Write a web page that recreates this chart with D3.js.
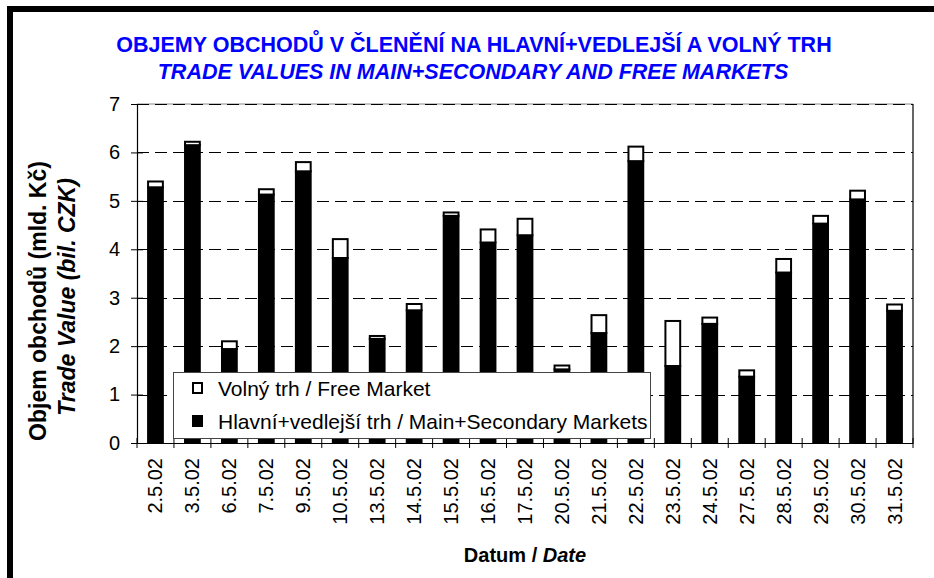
<!DOCTYPE html>
<html lang="cs">
<head>
  <meta charset="UTF-8">
  <title>Objemy obchodů</title>
  <script src="https://d3js.org/d3.v7.min.js"></script>
  <style>
    body { margin: 0; background: #fff; }
    text { font-family: Arial, 'Liberation Sans', sans-serif; fill: #000; }
    .title { fill: #0000ff; font-weight: bold; font-size: 21.5px; }
    .axis text { font-size: 20px; }
  </style>
</head>
<body>
  <svg width="934" height="578"></svg>

  <script>
    // The data
    const dates = ["2.5.02", "3.5.02", "6.5.02", "7.5.02", "9.5.02", "10.5.02", "13.5.02",
      "14.5.02", "15.5.02", "16.5.02", "17.5.02", "20.5.02", "21.5.02", "22.5.02",
      "23.5.02", "24.5.02", "27.5.02", "28.5.02", "29.5.02", "30.5.02", "31.5.02"];
    const mainValues = [5.28, 6.15, 1.94, 5.13, 5.61, 3.82, 2.15, 2.74, 4.69, 4.14, 4.29,
      1.52, 2.27, 5.82, 1.59, 2.46, 1.37, 3.52, 4.53, 5.03, 2.73];
    const freeValues = [0.12, 0.07, 0.16, 0.11, 0.19, 0.39, 0.06, 0.13, 0.07, 0.27, 0.34,
      0.08, 0.37, 0.30, 0.93, 0.13, 0.13, 0.28, 0.16, 0.18, 0.13];
    const yTicks = [0, 1, 2, 3, 4, 5, 6, 7];

    const svg = d3.select("svg");
    const plot = { left: 137, right: 913, top: 104, bottom: 443 };

    // frame (only top and left edges show)
    svg.append("rect").attr("x", 7).attr("y", 6).attr("width", 934).attr("height", 6).attr("fill", "#000");
    svg.append("rect").attr("x", 7).attr("y", 6).attr("width", 6).attr("height", 578).attr("fill", "#000");

    // Scales
    const x = d3.scaleBand()
      .domain(dates)
      .range([plot.left, plot.right])
      .paddingInner(0.6)
      .paddingOuter(0.3);
    const y = d3.scaleLinear()
      .domain([0, 7])
      .range([plot.bottom, plot.top]);

    const g = svg.append("g");

    // top border of plot area and right border
    g.append("line")
      .attr("x1", plot.left).attr("x2", plot.right)
      .attr("y1", y(7)).attr("y2", y(7))
      .attr("stroke", "#888").attr("stroke-width", 1);
    g.append("line")
      .attr("x1", plot.right).attr("x2", plot.right)
      .attr("y1", y(7)).attr("y2", y(0))
      .attr("stroke", "#000").attr("stroke-width", 1.2);

    // dashed gridlines
    g.selectAll("line.grid")
      .data(yTicks.filter(d => d > 0))
      .enter().append("line")
      .attr("class", "grid")
      .attr("x1", plot.left).attr("x2", plot.right)
      .attr("y1", d => Math.round(y(d)) + 0.5).attr("y2", d => Math.round(y(d)) + 0.5)
      .attr("stroke", "#000")
      .attr("stroke-dasharray", "12,6");

    // stacked bars
    const bars = g.selectAll("g.bar")
      .data(dates.map((d, i) => ({ date: d, main: mainValues[i], free: freeValues[i] })))
      .enter().append("g").attr("class", "bar");

    bars.append("rect")
      .attr("x", d => x(d.date))
      .attr("width", x.bandwidth())
      .attr("y", d => y(d.main))
      .attr("height", d => y(0) - y(d.main))
      .attr("fill", "#000")
      .attr("stroke", "#000")
      .attr("stroke-width", 2);

    bars.append("rect")
      .attr("x", d => x(d.date))
      .attr("width", x.bandwidth())
      .attr("y", d => y(d.main + d.free))
      .attr("height", d => y(d.main) - y(d.main + d.free))
      .attr("fill", "#fff")
      .attr("stroke", "#000")
      .attr("stroke-width", 2);

    // Y axis with ticks crossing the line
    const yAxis = g.append("g")
      .attr("class", "axis")
      .attr("transform", `translate(${plot.left},0)`)
      .call(d3.axisLeft(y).tickValues(yTicks).tickFormat(d3.format("d"))
        .tickSize(6).tickSizeOuter(0).tickPadding(11));
    yAxis.selectAll(".tick line").attr("x1", 6);
    yAxis.select(".domain").attr("stroke-width", 1.2);

    // X axis: labels at band centers, ticks at band edges
    const xAxis = g.append("g")
      .attr("class", "axis")
      .attr("transform", `translate(0,${plot.bottom})`)
      .call(d3.axisBottom(x).tickSize(0).tickSizeOuter(0));
    xAxis.select(".domain").attr("stroke-width", 1.2);
    xAxis.selectAll(".tick text")
      .attr("transform", "translate(0,15) rotate(-90)")
      .attr("text-anchor", "end")
      .attr("x", 0)
      .attr("y", 0)
      .attr("dy", "0.35em");

    const edges = dates.map(d => x(d) + x.bandwidth() / 2 - x.step() / 2).concat([plot.right]);
    g.selectAll("line.xtick")
      .data(edges)
      .enter().append("line")
      .attr("x1", d => d).attr("x2", d => d)
      .attr("y1", plot.bottom - 5).attr("y2", plot.bottom + 5)
      .attr("stroke", "#000");

    // Legend
    const lg = svg.append("g");
    lg.append("rect")
      .attr("x", 173.5).attr("y", 372.5).attr("width", 477).attr("height", 66)
      .attr("fill", "#fff").attr("stroke", "#444").attr("stroke-width", 1);
    lg.append("rect").attr("x", 193).attr("y", 383).attr("width", 9).attr("height", 10)
      .attr("fill", "#fff").attr("stroke", "#000").attr("stroke-width", 2);
    lg.append("rect").attr("x", 192).attr("y", 415).attr("width", 11).attr("height", 12)
      .attr("fill", "#000");
    lg.append("text").attr("x", 218).attr("y", 396).style("font-size", "21px")
      .text("Volný trh / Free Market");
    lg.append("text").attr("x", 218).attr("y", 429).style("font-size", "21px")
      .text("Hlavní+vedlejší trh / Main+Secondary Markets");

    // Titles
    svg.append("text").attr("class", "title")
      .attr("x", 474).attr("y", 52).attr("text-anchor", "middle")
      .text("OBJEMY OBCHODŮ V ČLENĚNÍ NA HLAVNÍ+VEDLEJŠÍ A VOLNÝ TRH");
    svg.append("text").attr("class", "title")
      .attr("x", 473).attr("y", 79).attr("text-anchor", "middle")
      .style("font-style", "italic")
      .text("TRADE VALUES IN MAIN+SECONDARY AND FREE MARKETS");

    // Axis titles
    svg.append("text")
      .attr("transform", "translate(46,301) rotate(-90)")
      .attr("text-anchor", "middle")
      .style("font-size", "23px").style("font-weight", "bold")
      .text("Objem obchodů (mld. Kč)");
    svg.append("text")
      .attr("transform", "translate(75,297) rotate(-90)")
      .attr("text-anchor", "middle")
      .style("font-size", "23px").style("font-weight", "bold").style("font-style", "italic")
      .text("Trade Value (bil. CZK)");

    const xt = svg.append("text")
      .attr("x", (plot.left + plot.right) / 2).attr("y", 562)
      .attr("text-anchor", "middle")
      .style("font-size", "20px").style("font-weight", "bold");
    xt.append("tspan").text("Datum / ");
    xt.append("tspan").style("font-style", "italic").text("Date");
  </script>
</body>
</html>
